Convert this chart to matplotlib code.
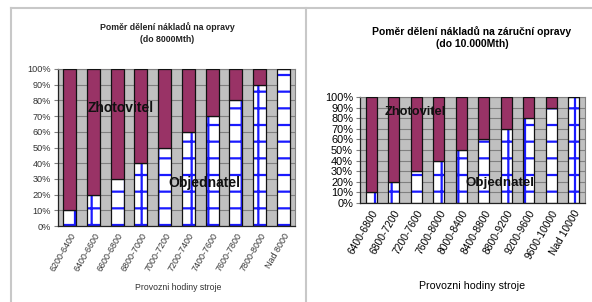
import matplotlib
matplotlib.use("Agg")
import matplotlib.pyplot as plt
from matplotlib.lines import Line2D
import numpy as np

plt.rcParams['font.family'] = ['Liberation Sans', 'DejaVu Sans']
plt.rcParams['hatch.linewidth'] = 1.6
plt.rcParams['hatch.color'] = '#1a1aff'

# Left chart data
left_categories = ["6200-6400", "6400-6600", "6600-6800", "6800-7000", "7000-7200",
                   "7200-7400", "7400-7600", "7600-7800", "7800-8000", "Nad 8000"]
left_objednatel = [10, 20, 30, 40, 50, 60, 70, 80, 90, 100]
left_zhotovitel = [90, 80, 70, 60, 50, 40, 30, 20, 10, 0]

# Right chart data
right_categories = ["6400-6800", "6800-7200", "7200-7600", "7600-8000", "8000-8400",
                    "8400-8800", "8800-9200", "9200-9600", "9600-10000", "Nad 10000"]
right_objednatel = [10, 20, 30, 40, 50, 60, 70, 80, 90, 100]
right_zhotovitel = [90, 80, 70, 60, 50, 40, 30, 20, 10, 0]

yticks = [0, 10, 20, 30, 40, 50, 60, 70, 80, 90, 100]
ytick_labels = [f"{v}%" for v in yticks]

W, H = 592, 302
fig = plt.figure(figsize=(W / 100, H / 100), dpi=100)


def px_axes(x0, y0, x1, y1):
    return fig.add_axes([x0 / W, 1 - y1 / H, (x1 - x0) / W, (y1 - y0) / H])


MAROON = '#993366'
BG = '#c0c0c0'
GRID = '#808080'


def draw(ax, cats, obj, zho, width, ytick_fs, xtick_fs, txtcol):
    x = np.arange(len(cats))
    ax.set_facecolor(BG)
    ax.set_axisbelow(True)
    ax.yaxis.grid(True, color=GRID, linewidth=0.8)
    ax.bar(x, obj, width=width, color='white', hatch='+', edgecolor='#1a1aff', linewidth=0, zorder=2)
    ax.bar(x, obj, width=width, fill=False, edgecolor='#111111', linewidth=0.9, zorder=3)
    ax.bar(x, zho, bottom=obj, width=width, color=MAROON, edgecolor='#111111', linewidth=0.9, zorder=3)
    ax.set_xlim(-0.5, len(cats) - 0.5)
    ax.set_ylim(0, 100)
    ax.set_yticks(yticks)
    ax.set_yticklabels(ytick_labels, fontsize=ytick_fs, color=txtcol)
    ax.set_xticks(x)
    ax.set_xticklabels(cats, rotation=60, ha='right', rotation_mode='anchor',
                       fontsize=xtick_fs, color=txtcol)
    ax.tick_params(axis='x', length=0, pad=4)
    ax.tick_params(axis='y', length=3, width=0.8, color=GRID, pad=2)
    for s in ['top', 'right']:
        ax.spines[s].set_color(GRID)
        ax.spines[s].set_linewidth(0.8)
    for s in ['left', 'bottom']:
        ax.spines[s].set_color('#222222')
        ax.spines[s].set_linewidth(0.9)


# Left chart
axL = px_axes(58, 69, 295, 226)
draw(axL, left_categories, left_objednatel, left_zhotovitel, 0.55, 6.6, 6.4, '#333333')
axL.text(0.77, 75, "Zhotovitel", fontsize=10, fontweight='bold', color='#111111',
         va='center', zorder=5)
axL.text(4.14, 27.5, "Objednatel", fontsize=10, fontweight='bold', color='#111111',
         va='center', zorder=5)
fig.text(167 / W, 1 - 33 / H, "Poměr dělení nákladů na opravy\n(do 8000Mth)",
         ha='center', va='center', fontsize=6.3, fontweight='bold', color='#222222', linespacing=1.35)
fig.text(178 / W, 1 - 288 / H, "Provozni hodiny stroje", ha='center', va='center',
         fontsize=6.3, color='#333333')

# Right chart
axR = px_axes(360, 97, 585, 203)
draw(axR, right_categories, right_objednatel, right_zhotovitel, 0.5, 7.9, 7.4, 'black')
axR.text(0.61, 86, "Zhotovitel", fontsize=9.3, fontweight='bold', color='#111111',
         va='center', zorder=5)
axR.text(4.17, 19, "Objednatel", fontsize=9.6, fontweight='bold', color='#111111',
         va='center', zorder=5)
fig.text(472 / W, 1 - 37.5 / H, "Poměr dělení nákladů na záruční opravy\n(do 10.000Mth)",
         ha='center', va='center', fontsize=7.5, fontweight='bold', color='black', linespacing=1.15)
fig.text(472 / W, 1 - 286 / H, "Provozni hodiny stroje", ha='center', va='center',
         fontsize=7.7, color='black')

# Panel borders
bc = '#c8c8c8'
fig.add_artist(Line2D([11 / W, 1], [1 - 8 / H, 1 - 8 / H], color=bc, linewidth=1.5, transform=fig.transFigure))
fig.add_artist(Line2D([11 / W, 11 / W], [0, 1 - 8 / H], color=bc, linewidth=1.5, transform=fig.transFigure))
fig.add_artist(Line2D([306 / W, 306 / W], [0, 1 - 8 / H], color=bc, linewidth=1.5, transform=fig.transFigure))

fig.savefig("out.png", dpi=100)
